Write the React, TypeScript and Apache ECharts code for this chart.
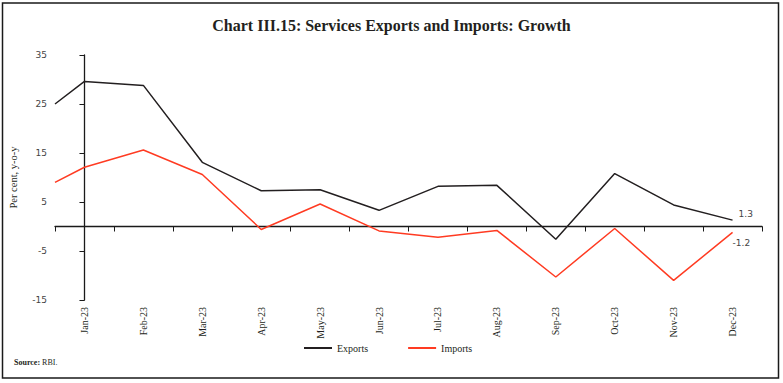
import React, { useEffect, useRef } from "react";
import * as echarts from "echarts";

const months = ["Jan-23", "Feb-23", "Mar-23", "Apr-23", "May-23", "Jun-23", "Jul-23", "Aug-23", "Sep-23", "Oct-23", "Nov-23", "Dec-23"];
// value at the left edge of the plot (line enters from the axis)
const exportsStart = 25.0;
const importsStart = 9.0;
const exportsGrowth = [29.6, 28.8, 13.1, 7.3, 7.5, 3.3, 8.2, 8.4, -2.6, 10.8, 4.4, 1.3];
const importsGrowth = [12.1, 15.6, 10.6, -0.6, 4.6, -0.9, -2.2, -0.8, -10.3, -0.4, -11.0, -1.2];
const yTicks = [-15, -5, 5, 15, 25, 35];

function buildData(start: number, vals: number[]) {
  const out: any[] = [[-0.5, start]];
  vals.forEach((v, i) => out.push([i, v]));
  return out;
}

export default function App() {
  const ref = useRef<HTMLDivElement>(null);
  useEffect(() => {
    if (!ref.current) return;
    const chart = echarts.init(ref.current, null, { renderer: "svg" });
    const serif = "Liberation Serif";
    const option: any = {
      animation: false,
      backgroundColor: "#ffffff",
      textStyle: { fontFamily: serif },
      title: {
        text: "Chart III.15: Services Exports and Imports: Growth",
        left: "center",
        top: 12,
        textStyle: { fontFamily: serif, fontSize: 16, fontWeight: "bold", color: "#231f20" },
      },
      graphic: [
        {
          type: "rect",
          shape: { x: 2.5, y: 3, width: 776, height: 375 },
          style: { fill: "none", stroke: "#1a1a1a", lineWidth: 1.5 },
          silent: true,
        },
        {
          type: "text",
          left: 14,
          top: 358,
          style: {
            text: "{b|Source:} RBI.",
            fontFamily: serif,
            fontSize: 8,
            fill: "#231f20",
            rich: { b: { fontFamily: serif, fontSize: 8, fontWeight: "bold", fill: "#231f20" } },
          },
        },
      ],
      legend: {
        bottom: 25,
        left: 299,
        itemGap: 40,
        itemWidth: 28,
        itemHeight: 2,
        icon: "rect",
        textStyle: { fontFamily: serif, fontSize: 10, color: "#231f20" },
        data: ["Exports", "Imports"],
      },
      grid: { left: 55, right: 21, top: 55, bottom: 83 },
      xAxis: [
        {
          type: "category",
          data: months,
          boundaryGap: true,
          axisLine: { onZero: true, lineStyle: { color: "#1a1a1a", width: 1.3 } },
          axisTick: { show: true, length: 5, inside: false, lineStyle: { color: "#1a1a1a" } },
          axisLabel: { show: false },
          splitLine: { show: false },
        },
        {
          type: "category",
          data: months,
          position: "bottom",
          boundaryGap: true,
          axisLine: { show: false, onZero: false },
          axisTick: { show: false },
          axisLabel: {
            show: true,
            rotate: 90,
            interval: 0,
            margin: 7,
            fontFamily: serif,
            fontSize: 10,
            color: "#231f20",
          },
          splitLine: { show: false },
        },
        {
          type: "value",
          min: -0.5,
          max: 11.5,
          show: false,
        },
      ],
      yAxis: {
        type: "value",
        min: -15,
        max: 35,
        interval: 10,
        name: "Per cent, y-o-y",
        nameLocation: "middle",
        nameGap: 36,
        nameTextStyle: { fontFamily: serif, fontSize: 10.5, color: "#231f20" },
        axisLine: { show: true, lineStyle: { color: "#1a1a1a", width: 1.3 } },
        axisTick: { show: true, length: 5, lineStyle: { color: "#1a1a1a" } },
        axisLabel: {
          margin: 8,
          fontFamily: "DejaVu Sans",
          fontSize: 9,
          color: "#444",
          formatter: (v: number) => (yTicks.includes(v) ? String(v) : ""),
        },
        splitLine: { show: false },
      },
      series: [
        {
          name: "Exports",
          type: "line",
          xAxisIndex: 2,
          symbol: "none",
          color: "#231f20",
          lineStyle: { color: "#231f20", width: 1.5 },
          endLabel: {
            show: true,
            offset: [-2, -6],
            fontFamily: "DejaVu Sans",
            fontSize: 9,
            color: "#444",
            formatter: (p: any) => p.value[1].toFixed(1),
          },
          data: buildData(exportsStart, exportsGrowth),
        },
        {
          name: "Imports",
          type: "line",
          xAxisIndex: 2,
          symbol: "none",
          color: "#ff3b22",
          lineStyle: { color: "#ff3b22", width: 1.5 },
          endLabel: {
            show: true,
            offset: [-8, 11],
            fontFamily: "DejaVu Sans",
            fontSize: 9,
            color: "#444",
            formatter: (p: any) => p.value[1].toFixed(1),
          },
          data: buildData(importsStart, importsGrowth),
        },
      ],
    };
    chart.setOption(option);
    return () => chart.dispose();
  }, []);
  return (
    <div
      ref={ref}
      style={{ position: "fixed", left: 0, top: 0, width: 783, height: 383 }}
    />
  );
}
